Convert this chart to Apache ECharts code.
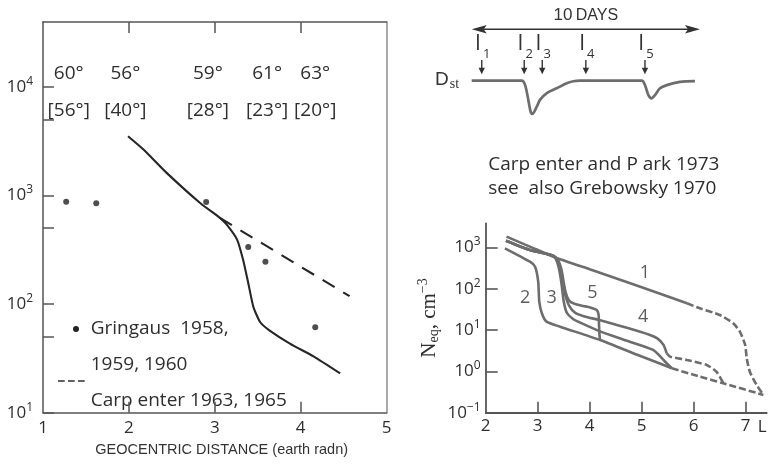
<!DOCTYPE html>
<html>
<head>
<meta charset="utf-8">
<script src="https://cdn.jsdelivr.net/npm/echarts@6/dist/echarts.min.js"></script>
<style>
  html, body { margin: 0; padding: 0; background: #fff; }
  #chart { width: 775px; height: 464px; }
</style>
</head>
<body>
<div id="chart"></div>
<script>
// ---------- Left panel: equatorial electron density vs geocentric distance ----------
const gringausDist = [1.27, 1.62, 2.90, 3.39, 3.59, 4.17];
const gringausDens = [875, 845, 870, 335, 245, 61];
const profileDist = [1.99, 2.17, 2.44, 2.83, 3.06, 3.14, 3.26, 3.33, 3.39, 3.45, 3.53, 3.64, 3.88, 4.15, 4.46];
const profileDens = [3500, 2640, 1610, 850, 620, 537, 391, 255, 156, 94, 68, 57, 43, 33, 23];
const carpenterDist = [3.06, 4.57];
const carpenterDens = [620, 118];
const latitudeDist = [1.30, 1.96, 2.92, 3.61, 4.17];
const invariantLat = ['60°', '56°', '59°', '61°', '63°'];
const magneticLat = ['[56°]', '[40°]', '[28°]', '[23°]', '[20°]'];
const leftDecades = [1, 2, 3, 4];

// ---------- Dst index over ten days, with storm onsets I1..I5 ----------
const dstDay = [0, 2.19, 2.34, 2.48, 2.58, 2.66, 2.85, 2.99, 3.29, 3.72, 4.16, 4.45, 4.74, 7.45, 7.59, 7.74, 7.88, 8.03, 8.25, 8.54, 9.12, 9.78];
const dstValue = [0, 0, -11, -48, -77, -83, -65, -48, -31, -19, -6.5, -1.5, 0, 0, -11, -36, -44, -36, -19, -11, -3, -1];
const stormDay = [0.44, 2.30, 3.09, 5.0, 7.59];
const stormName = ['1', '2', '3', '4', '5'];

// ---------- Right panel: equatorial density N_eq vs L ----------
const curve1L = [2.40, 2.85, 3.30, 4.00, 4.78, 5.87];
const curve1N = [1830, 1050, 600, 296, 136, 44.6];
const curve1TailL = [5.87, 6.12, 6.50, 6.76, 6.89, 6.99, 7.02, 7.08, 7.21, 7.34];
const curve1TailN = [44.6, 33.7, 23.2, 14.6, 9.1, 4.36, 2.07, 0.98, 0.47, 0.27];
const curve2L = [2.37, 2.85, 2.95, 3.01, 3.03, 3.08, 3.17, 3.43, 4.20, 4.90, 5.58];
const curve2N = [957, 453, 343, 149, 48.8, 25.5, 16.0, 12.1, 5.75, 2.57, 1.19];
const curve3L = [2.39, 2.85, 3.30, 3.37, 3.42, 3.46, 3.50, 3.56, 3.68, 3.85, 4.20, 4.70, 5.22, 5.48, 5.58];
const curve3N = [1460, 871, 631, 457, 263, 126, 50, 26.3, 18.6, 14.5, 9.3, 5.6, 3.3, 1.58, 1.19];
const curve4L = [2.39, 2.85, 3.30, 3.38, 3.44, 3.49, 3.53, 3.60, 3.72, 3.90, 4.20, 4.70, 5.16, 5.30, 5.42, 5.48];
const curve4N = [1460, 871, 631, 479, 282, 141, 70.8, 39.8, 26.3, 21.4, 17.4, 11.5, 7.6, 6.3, 4.4, 2.75];
const curve4TailL = [5.48, 5.55, 5.87, 6.25, 6.44, 6.57];
const curve4TailN = [2.75, 2.27, 1.89, 1.43, 0.98, 0.515];
const curve5L = [2.39, 2.85, 3.30, 3.39, 3.46, 3.50, 3.54, 3.60, 3.70, 3.85, 4.01, 4.13, 4.17, 4.18, 4.19, 4.20];
const curve5N = [1460, 871, 631, 501, 282, 141, 79.4, 52.5, 43.7, 38.9, 35.5, 30.9, 24.0, 12.6, 7.1, 5.75];
const troughTailL = [5.58, 6.12, 6.57, 7.34];
const troughTailN = [1.19, 0.745, 0.515, 0.27];
const rightDecades = [-1, 0, 1, 2, 3];
const rightTicks = [3, 4, 5, 6, 7];

// ---------- helpers ----------
const lg = Math.log10;
const zipLog = (xs, ys) => xs.map((x, i) => [x, lg(ys[i])]);
const SANS = '"Open Sans", "Noto Sans", sans-serif';
const ARIAL = '"Liberation Sans", Arial, sans-serif';
const SERIF = '"Liberation Serif", "DejaVu Serif", serif';
const INK = '#2e2e2e';
const FRAME = '#555';
const GREY = '#6d6d6d';

const powerLabel = v => {
  const n = Math.round(v);
  return '{b|10}{e|' + (n < 0 ? '\u2212' + (-n) : n) + '}';
};

const leftTicks = [];
leftDecades.forEach(d => { leftTicks.push(d); if (d < 4) leftTicks.push(d + lg(5)); });

const chart = echarts.init(document.getElementById('chart'), null, { renderer: 'canvas' });

const greyLine = (name, xs, ys, dashed) => ({
  name, type: 'line', xAxisIndex: 3, yAxisIndex: 3,
  data: zipLog(xs, ys), showSymbol: false, smooth: 0.2,
  lineStyle: { color: GREY, width: 2.6, type: dashed ? [7, 3] : 'solid', cap: 'butt' },
  z: 3, silent: true
});

const option = {
  animation: false,
  backgroundColor: '#fff',
  grid: [
    { left: 43, top: 22, width: 343.5, height: 390.7 },
    { left: 471.7, top: 10.7, width: 228.3, height: 110 },
    { left: 485.7, top: 223.3, width: 281, height: 189.4 }
  ],
  xAxis: [
    { // left panel, bottom
      gridIndex: 0, type: 'value', min: 1, max: 5, interval: 1, position: 'bottom',
      axisLine: { onZero: false, lineStyle: { color: FRAME, width: 1.5 } },
      axisTick: { inside: true, length: 11, customValues: [2, 3, 4], lineStyle: { color: FRAME, width: 1.5 } },
      axisLabel: { color: INK, fontFamily: SANS, fontSize: 17, margin: 7 },
      splitLine: { show: false }
    },
    { // left panel, top: latitudes
      gridIndex: 0, type: 'value', min: 1, max: 5, interval: 1, position: 'top',
      axisLine: { onZero: false, lineStyle: { color: FRAME, width: 1.5 } },
      axisTick: { inside: true, length: 11, customValues: [2, 3, 4], lineStyle: { color: FRAME, width: 1.5 } },
      axisLabel: {
        inside: true, margin: 33, customValues: latitudeDist,
        formatter: v => {
          let i = 0;
          latitudeDist.forEach((d, k) => { if (Math.abs(d - v) < Math.abs(latitudeDist[i] - v)) i = k; });
          return '{a|' + invariantLat[i] + '}\n{a|' + magneticLat[i] + '}';
        },
        rich: { a: { fontFamily: SANS, fontSize: 19, color: INK, lineHeight: 37 } }
      },
      splitLine: { show: false }
    },
    { gridIndex: 1, type: 'value', min: 0, max: 10, show: false },
    { // right panel
      gridIndex: 2, type: 'value', min: 2, max: 7.404, interval: 1,
      name: 'L', nameLocation: 'end', nameGap: -9,
      nameTextStyle: { fontFamily: SANS, fontSize: 17, color: INK, verticalAlign: 'top', padding: [6, 0, 0, 0] },
      axisLine: { onZero: false, lineStyle: { color: FRAME, width: 1.8 } },
      axisTick: { inside: true, length: 11, customValues: rightTicks, lineStyle: { color: FRAME, width: 1.6 } },
      axisLabel: { color: INK, fontFamily: SANS, fontSize: 17, margin: 5, customValues: [2, 3, 4, 5, 6, 7] },
      splitLine: { show: false }
    }
  ],
  yAxis: [
    { // left panel, log10 density
      gridIndex: 0, type: 'value', min: 1, max: 4.595, interval: 1, position: 'left',
      axisLine: { onZero: false, lineStyle: { color: FRAME, width: 1.5 } },
      axisTick: { inside: true, length: 11, customValues: leftTicks, lineStyle: { color: FRAME, width: 1.5 } },
      axisLabel: {
        customValues: leftDecades, margin: 10, formatter: powerLabel,
        rich: {
          b: { fontFamily: SANS, fontSize: 17, color: INK },
          e: { fontFamily: SANS, fontSize: 12, color: INK, padding: [0, 0, 11, 0] }
        }
      },
      splitLine: { show: false }
    },
    {
      gridIndex: 0, type: 'value', min: 1, max: 4.595, position: 'right',
      axisLine: { onZero: false, lineStyle: { color: '#8c8c8c', width: 1.5 } },
      axisTick: { show: false }, axisLabel: { show: false }, splitLine: { show: false }
    },
    { gridIndex: 1, type: 'value', min: -100, max: 175, show: false },
    { // right panel, log10 N_eq
      gridIndex: 2, type: 'value', min: -1, max: 3.586, interval: 1,
      name: '{n|N}{s|eq}{n|, cm}{p|\u22123}', nameLocation: 'middle', nameRotate: 90, nameGap: 43,
      nameTextStyle: {
        rich: {
          n: { fontFamily: SERIF, fontSize: 21, color: INK },
          s: { fontFamily: SERIF, fontSize: 14, color: INK, padding: [10, 0, 0, 0] },
          p: { fontFamily: SERIF, fontSize: 14, color: INK, padding: [0, 0, 12, 0] }
        }
      },
      axisLine: { onZero: false, lineStyle: { color: FRAME, width: 1.8 } },
      axisTick: { inside: true, length: 12, customValues: [0, 1, 2, 3], lineStyle: { color: FRAME, width: 1.6 } },
      axisLabel: {
        customValues: rightDecades, margin: 5, formatter: powerLabel,
        rich: {
          b: { fontFamily: SANS, fontSize: 17, color: INK },
          e: { fontFamily: SANS, fontSize: 12, color: INK, padding: [0, 0, 11, 0] }
        }
      },
      splitLine: { show: false }
    }
  ],
  series: [
    {
      name: 'profile', type: 'line', xAxisIndex: 0, yAxisIndex: 0,
      data: zipLog(profileDist, profileDens), showSymbol: false, smooth: 0.2,
      lineStyle: { color: '#262626', width: 2.1 }, z: 3
    },
    {
      name: 'Carpenter 1963, 1965', type: 'line', xAxisIndex: 0, yAxisIndex: 0,
      data: zipLog(carpenterDist, carpenterDens), showSymbol: false,
      lineStyle: { color: '#262626', width: 2.1, type: [14, 10] }, z: 3
    },
    {
      name: 'Gringaus 1958, 1959, 1960', type: 'scatter', xAxisIndex: 0, yAxisIndex: 0,
      data: zipLog(gringausDist, gringausDens), symbolSize: 6,
      itemStyle: { color: '#222' }, z: 4
    },
    {
      name: 'Dst', type: 'line', xAxisIndex: 2, yAxisIndex: 2,
      data: dstDay.map((d, i) => [d, dstValue[i]]), showSymbol: false, smooth: 0.3,
      lineStyle: { color: GREY, width: 2.7 }
    },
    { // ten-day span arrow
      type: 'custom', xAxisIndex: 2, yAxisIndex: 2, data: [[0, 10]], silent: true,
      renderItem: (params, api) => {
        const a = api.coord([api.value(0), 0]);
        const b = api.coord([api.value(1), 0]);
        const y = a[1] - 51.4, head = 15, hw = 4.2;
        return {
          type: 'group', children: [
            { type: 'line', shape: { x1: a[0] + head - 3, y1: y, x2: b[0] - head + 3, y2: y }, style: { stroke: '#333', lineWidth: 1.6 } },
            { type: 'polygon', shape: { points: [[a[0], y], [a[0] + head, y - hw], [a[0] + head - 3, y], [a[0] + head, y + hw]] }, style: { fill: '#333' } },
            { type: 'polygon', shape: { points: [[b[0], y], [b[0] - head, y - hw], [b[0] - head + 3, y], [b[0] - head, y + hw]] }, style: { fill: '#333' } },
            {
              type: 'text', x: (a[0] + b[0]) / 2, y: y - 14,
              style: {
                text: '{n|10} {d|DAYS}', align: 'center', verticalAlign: 'middle',
                rich: { n: { fontFamily: ARIAL, fontSize: 17, fill: '#333' }, d: { fontFamily: ARIAL, fontSize: 16, fill: '#333' } }
              }
            }
          ]
        };
      }
    },
    { // storm onset markers
      type: 'custom', xAxisIndex: 2, yAxisIndex: 2, silent: true,
      data: stormDay.map((d, i) => [d, i]),
      renderItem: (params, api) => {
        const p = api.coord([api.value(0), 0]);
        const name = stormName[api.value(1)];
        const x = p[0], y0 = p[1];
        return {
          type: 'group', children: [
            { type: 'line', shape: { x1: x, y1: y0 - 20.7, x2: x, y2: y0 - 11 }, style: { stroke: '#333', lineWidth: 1.4 } },
            { type: 'polygon', shape: { points: [[x, y0 - 6.5], [x - 3.2, y0 - 13], [x + 3.2, y0 - 13]] }, style: { fill: '#333' } },
            {
              type: 'text', x: x + 1, y: y0 - 37,
              style: {
                text: '{i|I}{s|' + name + '}', align: 'center', verticalAlign: 'middle',
                rich: {
                  i: { fontFamily: SANS, fontSize: 21, fill: '#333' },
                  s: { fontFamily: SANS, fontSize: 13, fill: '#333', padding: [22, 0, 0, 2] }
                }
              }
            }
          ]
        };
      }
    },
    greyLine('1', curve1L, curve1N, false),
    greyLine('1 tail', curve1TailL, curve1TailN, true),
    greyLine('2', curve2L, curve2N, false),
    greyLine('3', curve3L, curve3N, false),
    greyLine('4', curve4L, curve4N, false),
    greyLine('4 tail', curve4TailL, curve4TailN, true),
    greyLine('5', curve5L, curve5N, false),
    greyLine('trough tail', troughTailL, troughTailN, true),
    { // curve numbers
      type: 'scatter', xAxisIndex: 3, yAxisIndex: 3, silent: true,
      symbolSize: 1, itemStyle: { color: 'rgba(0,0,0,0)' },
      data: [[5.06, lg(237), '1'], [2.76, lg(62), '2'], [3.27, lg(62), '3'], [5.03, lg(21), '4'], [4.05, lg(78), '5']],
      label: { show: true, position: 'inside', formatter: p => p.data[2], fontFamily: SANS, fontSize: 18, color: '#333' },
      z: 5
    }
  ],
  graphic: [
    { type: 'circle', shape: { cx: 76, cy: 329, r: 3 }, style: { fill: '#222' } },
    { type: 'text', x: 90.7, y: 329, style: { text: 'Gringaus  1958,', font: '19px ' + SANS, fill: INK, verticalAlign: 'middle' } },
    { type: 'text', x: 90.7, y: 365, style: { text: '1959, 1960', font: '19px ' + SANS, fill: INK, verticalAlign: 'middle' } },
    { type: 'line', shape: { x1: 58, y1: 381, x2: 86, y2: 381 }, style: { stroke: INK, lineWidth: 1.4, lineDash: [6.7, 3.3] } },
    { type: 'text', x: 90.7, y: 400.7, style: { text: 'Carp enter 1963, 1965', font: '19px ' + SANS, fill: INK, verticalAlign: 'middle' } },
    { type: 'text', x: 221.7, y: 450, style: { text: 'GEOCENTRIC DISTANCE (earth radn)', font: '14.5px ' + ARIAL, fill: '#333', align: 'center', verticalAlign: 'middle' } },
    {
      type: 'text', x: 435, y: 80,
      style: {
        text: '{d|D}{s|st}', verticalAlign: 'middle',
        rich: { d: { fontFamily: ARIAL, fontSize: 19, fill: '#333' }, s: { fontFamily: SERIF, fontSize: 14, fill: '#333', padding: [8, 0, 0, 1] } }
      }
    },
    { type: 'text', x: 488.3, y: 165, style: { text: 'Carp enter and P ark 1973', font: '19px ' + SANS, fill: INK, verticalAlign: 'middle' } },
    { type: 'text', x: 488.3, y: 188.3, style: { text: 'see  also Grebowsky 1970', font: '19px ' + SANS, fill: INK, verticalAlign: 'middle' } }
  ]
};

chart.setOption(option);
</script>
</body>
</html>
